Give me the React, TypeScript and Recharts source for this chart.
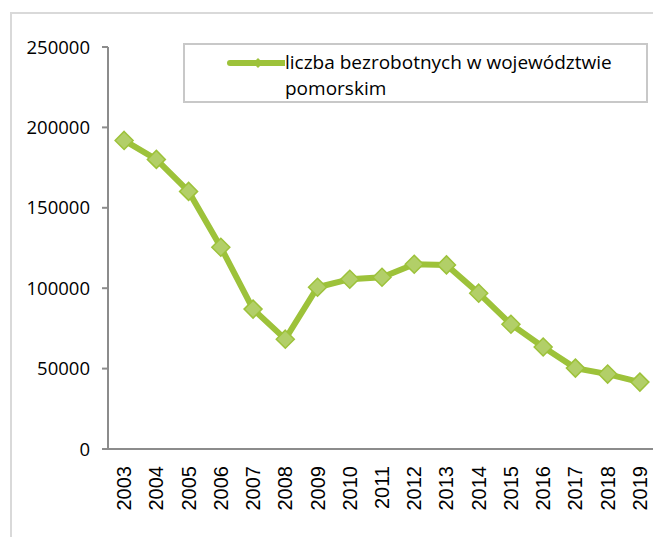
import React from 'react';
import { LineChart, Line, XAxis, YAxis, Legend } from 'recharts';

const years = [2003, 2004, 2005, 2006, 2007, 2008, 2009, 2010, 2011, 2012, 2013, 2014, 2015, 2016, 2017, 2018, 2019];
const unemployed = [191900, 180100, 160200, 125500, 87000, 68300, 100600, 105600, 106800, 114900, 114500, 96900, 77600, 63400, 50300, 46600, 41600];
const yTicks = [0, 50000, 100000, 150000, 200000, 250000];
const seriesName = 'liczba bezrobotnych w województwie pomorskim';

const data = years.map((year, i) => ({ year, value: unemployed[i] }));
// tick marks sit between the years, like a category axis
const boundaries = [...years.map((y) => y - 0.5), years[years.length - 1] + 0.5];

const GREEN = '#9dc23a';
const AXIS = '#8c8c8c';

const Diamond = (props: any) => {
  const { cx, cy } = props;
  if (cx == null || cy == null) return null;
  const r = 9;
  return (
    <polygon
      points={`${cx},${cy - r} ${cx + r},${cy} ${cx},${cy + r} ${cx - r},${cy}`}
      fill="#b2cf68"
      stroke={GREEN}
      strokeWidth={1.5}
    />
  );
};

const YearTick = (props: any) => {
  const { x, y, payload } = props;
  return (
    <text
      x={x}
      y={y}
      transform={`rotate(-90, ${x}, ${y})`}
      textAnchor="end"
      dominantBaseline="central"
      fill="#000"
      fontSize={20}
      fontFamily="'Liberation Sans', Arial, sans-serif"
    >
      {payload.value}
    </text>
  );
};

const LegendBox = () => (
  <div
    style={{
      border: '2px solid #c8c8c8',
      boxSizing: 'border-box',
      width: 465,
      height: 60,
      display: 'flex',
      alignItems: 'flex-start',
      paddingTop: 4,
      fontFamily: "'Open Sans', sans-serif",
      fontSize: 19,
      lineHeight: '26px',
      color: '#000',
    }}
  >
    <svg width={100} height={26} style={{ flex: 'none' }}>
      <line x1={45} y1={14} x2={100} y2={14} stroke={GREEN} strokeWidth={6} strokeLinecap="round" />
      <polygon points="73,9 78,14 73,19 68,14" fill={GREEN} />
    </svg>
    <div style={{ width: 355 }}>{seriesName}</div>
  </div>
);

const App: React.FC = () => {
  return (
    <div style={{ position: 'relative', width: 661, height: 537, margin: '-8px 0 0 -8px', overflow: 'hidden', background: '#fff' }}>
      <div
        style={{
          position: 'absolute',
          left: 10,
          top: 12,
          width: 700,
          height: 600,
          border: '2px solid #d9d9d9',
        }}
      />
      <div style={{ position: 'absolute', left: 0, top: 0 }}>
        <LineChart width={661} height={537} data={data} margin={{ top: 47, right: 5, bottom: 0, left: 0 }}>
          <XAxis
            xAxisId="bounds"
            type="number"
            dataKey="year"
            domain={[boundaries[0], boundaries[boundaries.length - 1]]}
            ticks={boundaries}
            tick={false}
            tickSize={7}
            height={1}
            stroke={AXIS}
            strokeWidth={2}
            allowDataOverflow
          />
          <XAxis
            xAxisId="years"
            type="number"
            dataKey="year"
            domain={[boundaries[0], boundaries[boundaries.length - 1]]}
            ticks={years}
            interval={0}
            axisLine={false}
            tickLine={false}
            tickSize={0}
            tickMargin={16}
            height={87}
            tick={<YearTick />}
            allowDataOverflow
          />
          <YAxis
            domain={[0, 250000]}
            ticks={yTicks}
            width={108}
            stroke={AXIS}
            strokeWidth={2}
            tickSize={6}
            tickMargin={12}
            tick={{ fill: '#000', fontSize: 18.5, fontFamily: "'Open Sans', sans-serif" }}
          />
          <Legend
            layout="horizontal"
            verticalAlign="middle"
            align="center"
            content={<LegendBox />}
            wrapperStyle={{ position: 'absolute', left: 183, top: 43, width: 465, height: 60 }}
          />
          <Line
            xAxisId="years"
            type="linear"
            dataKey="value"
            name={seriesName}
            stroke={GREEN}
            strokeWidth={6}
            dot={<Diamond />}
            activeDot={false}
            isAnimationActive={false}
          />
        </LineChart>
      </div>
    </div>
  );
};

export default App;
